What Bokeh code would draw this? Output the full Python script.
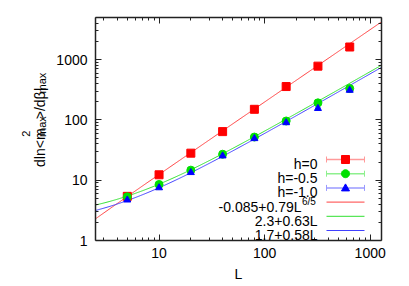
import numpy as np
from bokeh.plotting import figure
from bokeh.layouts import row
from bokeh.core.properties import value
from bokeh.models import (ColumnDataSource, FixedTicker, LogAxis, Label, Whisker,
                          TeeHead, Arrow, PolyAnnotation, Range1d, PrintfTickFormatter)
from bokeh.embed import file_html
from bokeh.resources import INLINE

# ---------------- data ----------------
L = [5, 10, 20, 40, 80, 160, 320, 640]
h0 = [5.4, 12.3, 28.1, 64, 150, 358, 780, 1620]
h0_err = [0.2, 0.4, 0.8, 2, 4, 10, 25, 160]
h05 = [5.3, 8.5, 14.7, 27, 52, 96, 192, 332]
h05_err = [0.1, 0.2, 0.3, 0.6, 1, 2, 5, 25]
h10 = [4.7, 7.5, 13.4, 25.3, 49, 90, 155, 311]
h10_err = [0.1, 0.2, 0.3, 0.6, 1, 2, 5, 25]

# fit:  a + b * L**c
fit_h0 = [-0.085, 0.79, 1.2]
fit_h05 = [2.3, 0.63, 1.0]
fit_h10 = [1.7, 0.58, 1.0]

series_labels = ["h=0", "h=-0.5", "h=-1.0"]
fit_labels = ["-0.085+0.79L", "2.3+0.63L", "1.7+0.58L"]
fit_sup = ["6/5", "", ""]

x_ticks = [10, 100, 1000]
y_ticks = [1, 10, 100, 1000]
x_lim = [2.5, 1280]
y_lim = [1, 5000]

# ---------------- styling ----------------
FONT = "Liberation Sans"
marker_col = ["#ff0000", "#00e000", "#0000ff"]
line_col = ["#ff4040", "#30e030", "#4040ff"]
err_col = ["#ff9a9a", "#8ef08e", "#9a9aff"]
markers = ["square", "circle", "triangle"]
msize = [8, 8, 7]

W, H = 409, 286
LEFTW = 50          # width of the y-title strip
FL, FB = 95, 240    # frame left / bottom in page px

p = figure(width=W - LEFTW, height=H, x_axis_type="log", y_axis_type="log",
           x_range=Range1d(*x_lim), y_range=Range1d(*y_lim),
           output_backend="svg", toolbar_location=None,
           min_border_left=FL - LEFTW, min_border_right=28, min_border_top=17, min_border_bottom=H - FB)
p.grid.visible = False
p.outline_line_color = None
p.background_fill_color = "white"
p.border_fill_color = "white"

x_minor = [m * 10 ** k for k in range(0, 4) for m in range(2, 10)]
y_minor = [m * 10 ** k for k in range(0, 4) for m in range(2, 10)]


def style_axis(ax, ticks, show_labels=True):
    ax.axis_line_color = "#222222"
    ax.axis_line_width = 1.5
    ax.major_tick_in = 6
    ax.major_tick_out = 0
    ax.minor_tick_in = 3
    ax.minor_tick_out = 0
    ax.major_tick_line_color = "#222222"
    ax.minor_tick_line_color = "#222222"
    ax.formatter = PrintfTickFormatter(format="%d")
    ax.major_label_text_font = FONT
    ax.major_label_text_font_size = "14px"
    ax.major_label_text_color = "black"
    if not show_labels:
        ax.major_label_overrides = {t: "" for t in ticks}
        ax.major_label_standoff = 0


p.xaxis.ticker = FixedTicker(ticks=x_ticks, minor_ticks=x_minor)
p.yaxis.ticker = FixedTicker(ticks=y_ticks, minor_ticks=y_minor)
style_axis(p.xaxis[0], x_ticks)
style_axis(p.yaxis[0], y_ticks)
p.xaxis.major_label_standoff = 7
p.yaxis.major_label_standoff = 8
p.xaxis.axis_label = "L"
p.xaxis.axis_label_text_font = FONT
p.xaxis.axis_label_text_font_size = "14px"
p.xaxis.axis_label_text_font_style = "normal"
p.xaxis.axis_label_text_color = "black"
p.xaxis.axis_label_standoff = 5

top_ax = LogAxis(ticker=FixedTicker(ticks=x_ticks, minor_ticks=x_minor))
style_axis(top_ax, x_ticks, False)
p.add_layout(top_ax, "above")
right_ax = LogAxis(ticker=FixedTicker(ticks=y_ticks, minor_ticks=y_minor))
style_axis(right_ax, y_ticks, False)
p.add_layout(right_ax, "right")

# ---------------- fits ----------------
xs = np.logspace(np.log10(x_lim[0]), np.log10(x_lim[1]), 300)
for fit, col in zip([fit_h0, fit_h05, fit_h10], line_col):
    a, b, c = fit
    p.line(xs, a + b * xs ** c, line_color=col, line_width=1)

# ---------------- data with error bars ----------------
for vals, errs, mk, mc, ec, ms in zip([h0, h05, h10], [h0_err, h05_err, h10_err],
                                      markers, marker_col, err_col, msize):
    src = ColumnDataSource(dict(L=L, v=vals,
                                up=[v + e for v, e in zip(vals, errs)],
                                lo=[v - e for v, e in zip(vals, errs)]))
    w = Whisker(source=src, base="L", upper="up", lower="lo", line_color=ec, line_width=1,
                upper_head=TeeHead(size=6, line_color=ec, line_width=1),
                lower_head=TeeHead(size=6, line_color=ec, line_width=1))
    p.add_layout(w)
    p.scatter("L", "v", source=src, marker=mk, size=ms, fill_color=mc, line_color=mc)

# ---------------- legend (drawn by hand: text right, sample left) ----------------
text_right = 317 - FL
samp_x0, samp_x1 = 326 - FL, 364 - FL
samp_xc = (samp_x0 + samp_x1) / 2
row0, dy = 163.5, 14.2
all_labels = series_labels + fit_labels
for i, txt in enumerate(all_labels):
    base_page = row0 + i * dy
    ys = FB - base_page
    yc = ys + 4.5
    if i >= 3 and fit_sup[i - 3]:
        p.add_layout(Label(x=text_right - 16, y=ys, x_units="screen", y_units="screen", text=txt,
                           text_font=FONT, text_font_size="14px", text_align="right",
                           text_baseline="alphabetic", text_color="black"))
        p.add_layout(Label(x=text_right - 15.5, y=ys + 5, x_units="screen", y_units="screen",
                           text=fit_sup[i - 3], text_font=FONT, text_font_size="10px",
                           text_align="left", text_baseline="alphabetic", text_color="black"))
    else:
        p.add_layout(Label(x=text_right, y=ys, x_units="screen", y_units="screen", text=txt,
                           text_font=FONT, text_font_size="14px", text_align="right",
                           text_baseline="alphabetic", text_color="black"))
    if i < 3:
        col = err_col[i]
        p.add_layout(Arrow(x_start=samp_x0, y_start=yc, x_end=samp_x1, y_end=yc,
                           start_units="screen", end_units="screen", start=None, end=None,
                           line_color=col, line_width=1.5))
        for xe in (samp_x0, samp_x1):
            p.add_layout(Arrow(x_start=xe, y_start=yc - 3, x_end=xe, y_end=yc + 3,
                               start_units="screen", end_units="screen", start=None, end=None,
                               line_color=col, line_width=1))
        r = 4
        if markers[i] == "square":
            mx = [samp_xc - r, samp_xc + r, samp_xc + r, samp_xc - r]
            my = [yc - r, yc - r, yc + r, yc + r]
        elif markers[i] == "circle":
            ang = np.linspace(0, 2 * np.pi, 20, endpoint=False)
            mx = list(samp_xc + r * np.cos(ang))
            my = list(yc + r * np.sin(ang))
        else:
            mx = [samp_xc - r, samp_xc + r, samp_xc]
            my = [yc - r * 0.75, yc - r * 0.75, yc + r]
        p.add_layout(PolyAnnotation(xs=mx, ys=my, xs_units="screen", ys_units="screen",
                                    fill_color=marker_col[i], fill_alpha=1,
                                    line_color=marker_col[i], line_alpha=1))
    else:
        col = line_col[i - 3]
        p.add_layout(Arrow(x_start=samp_x0, y_start=yc, x_end=samp_x1, y_end=yc,
                           start_units="screen", end_units="screen", start=None, end=None,
                           line_color=col, line_width=1))

# ---------------- y title strip (rotated, with sub/superscripts) ----------------
# coordinates: x = page px from left, y = page px from bottom
q = figure(width=LEFTW, height=H, x_range=Range1d(0, LEFTW), y_range=Range1d(0, H),
           output_backend="svg", toolbar_location=None,
           x_axis_location=None, y_axis_location=None, min_border=0)
q.grid.visible = False
q.outline_line_color = None
q.background_fill_color = "white"
q.border_fill_color = "white"

ylab_big = dict(text=["dln<m", ">/dβ|"], x=[39, 39], y=[H - 191.7, H - 130.5])
ylab_small = dict(text=["2", "max", "max"], x=[25, 41, 41], y=[H - 153.0, H - 153.3, H - 97.5])
q.text(x="x", y="y", text="text", source=ColumnDataSource(ylab_big), angle=np.pi / 2,
       text_font=value(FONT), text_font_size="14px", text_align="left",
       text_baseline="alphabetic", text_color="black")
q.text(x="x", y="y", text="text", source=ColumnDataSource(ylab_small), angle=np.pi / 2,
       text_font=value(FONT), text_font_size="11px", text_align="left",
       text_baseline="alphabetic", text_color="black")

layout = row(q, p)
open("out.html", "w").write(file_html(layout, INLINE))
